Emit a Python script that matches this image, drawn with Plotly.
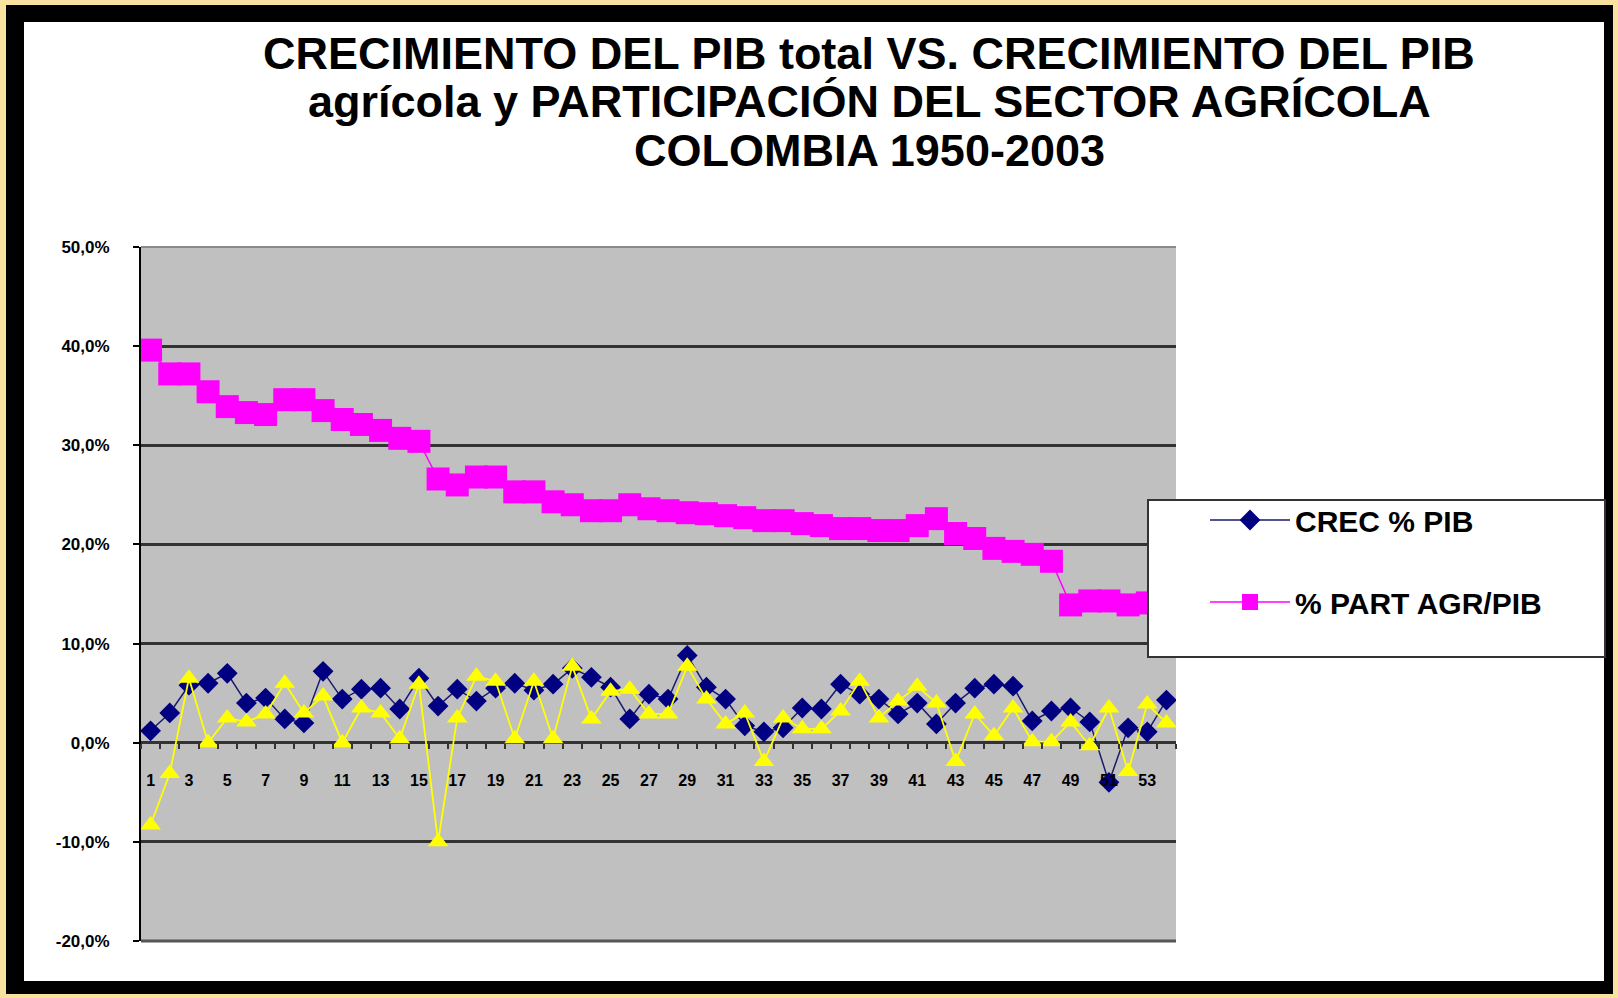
import plotly.graph_objects as go

# ---------------- data ----------------
categories = list(range(1, 55))  # 1950..2003 -> 1..54

crec_pib = [1.2, 3.0, 5.8, 6.0, 7.0, 4.0, 4.5, 2.4, 2.0, 7.2,
            4.4, 5.4, 5.5, 3.4, 6.5, 3.7, 5.4, 4.2, 5.5, 6.0,
            5.3, 5.9, 7.5, 6.6, 5.6, 2.4, 4.9, 4.4, 8.8, 5.6,
            4.4, 1.7, 1.1, 1.5, 3.5, 3.4, 5.9, 4.9, 4.4, 2.9,
            4.0, 1.9, 4.0, 5.5, 5.9, 5.7, 2.2, 3.2, 3.5, 2.1,
            -4.0, 1.5, 1.1, 4.3]

part_agr_pib = [39.6, 37.2, 37.2, 35.4, 33.9, 33.3, 33.1, 34.6, 34.6, 33.5,
                32.6, 32.1, 31.5, 30.7, 30.4, 26.6, 26.0, 26.8, 26.8, 25.3,
                25.3, 24.3, 24.0, 23.4, 23.4, 24.0, 23.6, 23.4, 23.2, 23.1,
                22.9, 22.7, 22.4, 22.4, 22.1, 21.9, 21.6, 21.6, 21.4, 21.4,
                21.9, 22.6, 21.1, 20.6, 19.6, 19.3, 19.0, 18.3, 13.9, 14.3,
                14.3, 13.9, 14.1, 13.8]

crec_pib_agr = [-8.3, -3.1, 6.5, 0.0, 2.5, 2.1, 2.9, 6.0, 3.0, 4.7,
                0.0, 3.5, 3.0, 0.4, 5.9, -10.0, 2.5, 6.7, 6.2, 0.4,
                6.2, 0.4, 7.7, 2.4, 5.2, 5.4, 2.9, 2.9, 7.7, 4.4,
                1.9, 3.0, -1.9, 2.5, 1.4, 1.4, 3.2, 6.2, 2.5, 4.2,
                5.7, 4.0, -1.9, 2.9, 0.7, 3.5, 0.1, 0.1, 2.1, -0.3,
                3.5, -2.9, 3.9, 2.0]

x_tick_vals = [1, 3, 5, 7, 9, 11, 13, 15, 17, 19, 21, 23, 25, 27,
               29, 31, 33, 35, 37, 39, 41, 43, 45, 47, 49, 51, 53]
x_tick_text = ["1", "3", "5", "7", "9", "11", "13", "15", "17", "19", "21", "23", "25", "27",
               "29", "31", "33", "35", "37", "39", "41", "43", "45", "47", "49", "51", "53"]
y_tick_vals = [-20, -10, 0, 10, 20, 30, 40, 50]
y_tick_text = ["-20,0%", "-10,0%", "0,0%", "10,0%", "20,0%", "30,0%", "40,0%", "50,0%"]

title_lines = ["CRECIMIENTO DEL PIB total VS. CRECIMIENTO DEL PIB",
               "agrícola y PARTICIPACIÓN DEL SECTOR AGRÍCOLA",
               "COLOMBIA 1950-2003"]

# ---------------- layout geometry ----------------
W, H = 1618, 998
PL, PR, PT, PB = 141, 1176, 247, 941   # plot area in pixels


def px(x):
    return (x - PL) / (PR - PL)


def py(y):
    return (PB - y) / (PB - PT)


FONT = "Liberation Sans"

fig = go.Figure()

fig.add_trace(go.Scatter(
    x=categories, y=crec_pib, name="CREC % PIB", mode="lines+markers",
    line=dict(color="#1a1a6e", width=1.5),
    marker=dict(symbol="diamond", size=16, color="#000080"),
    legendgroup="a",
))
fig.add_trace(go.Scatter(
    x=categories, y=part_agr_pib, name="% PART AGR/PIB", mode="lines+markers",
    line=dict(color="#FF00FF", width=1.5),
    marker=dict(symbol="square", size=23, color="#FF00FF"),
    legendgroup="b",
))
fig.add_trace(go.Scatter(
    x=categories, y=crec_pib_agr, name="CREC % PIB AGR", mode="lines+markers",
    line=dict(color="#FFFF00", width=1.8),
    marker=dict(symbol="triangle-up", size=18, color="#FFFF00"),
    showlegend=False,
))

shapes = [
    # black frame
    dict(type="rect", xref="paper", yref="paper", layer="below",
         x0=px(6), x1=px(W - 5), y0=py(H - 4), y1=py(5),
         fillcolor="#000000", line=dict(width=0)),
    # white chart area
    dict(type="rect", xref="paper", yref="paper", layer="below",
         x0=px(24), x1=px(1604), y0=py(981), y1=py(22),
         fillcolor="#FFFFFF", line=dict(width=0)),
    # grey plot area
    dict(type="rect", xref="paper", yref="paper", layer="below",
         x0=0, x1=1, y0=0, y1=1,
         fillcolor="#C0C0C0", line=dict(width=0)),
    # top edge light grey
    dict(type="line", xref="paper", yref="paper", layer="above",
         x0=0, x1=1, y0=1, y1=1, line=dict(color="#8a8a8a", width=2)),
    # bottom edge shadow
    dict(type="line", xref="paper", yref="paper", layer="above",
         x0=0, x1=1, y0=0, y1=0, line=dict(color="#555555", width=3)),
    # legend box
    dict(type="rect", xref="paper", yref="paper", layer="above",
         x0=px(1148), x1=px(1605), y0=py(657), y1=py(500),
         fillcolor="#FFFFFF", line=dict(color="#333333", width=2)),
]

title_y_px = [54, 101, 150]
annotations = [
    dict(text=t, xref="paper", yref="paper", x=px(869), y=py(yy),
         xanchor="center", yanchor="middle", showarrow=False,
         font=dict(family=FONT, size=45, color="#000000", weight="bold"))
    for t, yy in zip(title_lines, title_y_px)
]

fig.update_layout(
    width=W, height=H,
    margin=dict(l=PL, r=W - PR, t=PT, b=H - PB, pad=0),
    paper_bgcolor="#F9E2A0",
    plot_bgcolor="rgba(0,0,0,0)",
    shapes=shapes,
    annotations=annotations,
    showlegend=True,
    legend=dict(
        x=px(1205), y=py(494), xanchor="left", yanchor="top",
        bgcolor="rgba(0,0,0,0)", borderwidth=0,
        font=dict(family=FONT, size=30, color="#000000", weight="bold"),
        tracegroupgap=40, itemwidth=80,
    ),
    xaxis=dict(
        range=[0.5, 54.5], tickmode="array",
        tickvals=x_tick_vals, ticktext=x_tick_text,
        ticks="", showgrid=False, zeroline=False, showline=False,
        anchor="free", position=20 / 70,
        tickfont=dict(family=FONT, size=16, color="#000000", weight="bold"),
        ticklabelstandoff=26,
        minor=dict(tickmode="linear", tick0=0.5, dtick=1, ticks="outside",
                   ticklen=5, tickwidth=2, tickcolor="#333333", showgrid=False),
    ),
    yaxis=dict(
        range=[-20, 50], tickmode="array",
        tickvals=y_tick_vals, ticktext=y_tick_text,
        showgrid=True, gridcolor="#333333", gridwidth=3,
        zeroline=True, zerolinecolor="#333333", zerolinewidth=3,
        showline=True, linecolor="#000000", linewidth=2,
        ticks="outside", ticklen=6, tickwidth=2, tickcolor="#000000",
        tickfont=dict(family=FONT, size=17, color="#000000", weight="bold"),
        ticklabelstandoff=20,
    ),
)

fig.write_html("out.html", config={"displayModeBar": False},
               post_script="document.body.style.margin='0px';")
